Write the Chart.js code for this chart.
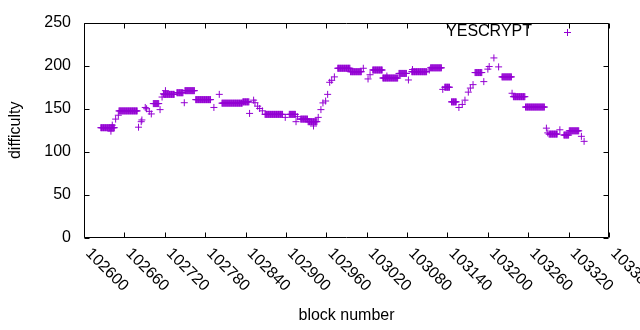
<!DOCTYPE html>
<html><head><meta charset="utf-8">
<script src="https://cdn.jsdelivr.net/npm/chart.js@4/dist/chart.umd.min.js"></script>
<style>html,body{margin:0;padding:0;background:#fff}canvas{display:block}</style>
</head><body>
<canvas id="c" width="640" height="330"></canvas>
<script>
const seriesName = 'YESCRYPT';
const xTitle = 'block number';
const yTitle = 'difficulty';
const xTickValues = [102600,102660,102720,102780,102840,102900,102960,103020,103080,103140,103200,103260,103320,103380];
const yTickValues = [0,50,100,150,200,250];

const blockNumbers = [
102625,102626,102627,102628,102629,102630,102631,102632,102633,102634,102635,102636,102637,102638,102639,102640,102641,102642,102643,102644,102645,
102640,102642,102647,102651,
102652,102653,102654,102655,102656,102657,102658,102659,102660,102661,102662,102663,102664,102665,102666,102667,102668,102669,102670,102671,102672,102673,102674,102675,102676,102677,102678,102679,
102681,102685,102686,102691,102693,102697,102700,
102703,102704,102705,102706,102707,102708,102709,102710,102711,
102713,102716,102718,
102719,102720,102721,102722,102723,102724,102725,102726,102727,102728,102729,102730,102731,102732,102733,102734,
102721,
102738,102739,102740,102741,102742,102743,102744,102745,102746,102747,
102749,
102750,102751,102752,102753,102754,102755,102756,102757,102758,102759,102760,102761,102762,102763,102764,
102766,102767,102768,102769,102770,102771,102772,102773,102774,102775,102776,102777,102778,102779,102780,102781,102782,102783,102784,102785,102786,102787,102788,
102793,102801,
102805,102806,102807,102808,102809,102810,102811,102812,102813,102814,102815,102816,102817,102818,102819,102820,102821,102822,102823,102824,102825,102826,102827,102828,102829,102830,102831,102832,102833,102834,102835,
102836,102837,102838,102839,102840,102841,102842,102843,102844,102845,
102846,102852,102854,102858,102861,102865,
102869,102870,102871,102872,102873,102874,102875,102876,102877,102878,102879,102880,102881,102882,102883,102884,102885,102886,102887,102888,102889,102890,102891,102892,102893,102894,102895,
102899,
102905,102906,102907,102908,102909,102910,102911,102912,102913,102914,
102915,102917,
102922,102923,102924,102925,102926,102927,102928,102929,102930,102931,102932,
102933,102934,102935,102936,102937,102938,102939,102940,102941,102942,102943,102944,102945,102946,
102941,102948,102952,102955,102959,102962,102965,102968,102972,
102977,102978,102979,102980,102981,102982,102983,102984,102985,102986,102987,102988,102989,102990,102991,102992,102993,102994,102995,
102996,102997,102998,102999,103000,103001,103002,103003,103004,103005,103006,103007,103008,103009,103010,103011,103012,
103015,103022,103025,
103029,103030,103031,103032,103033,103034,103035,103036,103037,103038,103039,103040,103041,103042,103043,
103044,103045,103046,103047,103048,103049,103050,103051,103052,103053,103054,103055,103056,103057,103058,103059,103060,103061,103062,103063,103064,103065,103066,
103050,
103068,103069,103070,103071,103072,103073,103074,103075,103076,103077,103078,103079,
103082,
103087,103088,103089,103090,103091,103092,103093,103094,103095,103096,103097,103098,103099,103100,103101,103102,103103,103104,103105,103106,103107,103108,103109,
103088,103113,
103115,103116,103117,103118,103119,103120,103121,103122,103123,103124,103125,103126,103127,103128,103129,103130,103131,
103133,
103136,103137,103138,103139,103140,103141,103142,103143,
103146,103147,103148,103149,103150,103151,103152,103153,
103157,103162,103166,103171,103174,103178,
103181,103182,103183,103184,103185,103186,103187,103188,103189,103190,103191,
103194,103200,103202,103209,103216,
103221,103222,103223,103224,103225,103226,103227,103228,103229,103230,103231,103232,103233,103234,103235,
103236,
103238,103239,103240,103241,103242,103243,103244,103245,103246,103247,103248,103249,103250,103251,103252,103253,103254,103255,
103256,103257,103258,103259,103260,103261,103262,103263,103264,103265,103266,103267,103268,103269,103270,103271,103272,103273,103274,103275,103276,103277,103278,103279,103280,103281,103282,103283,103284,
103287,103289,
103291,103292,103293,103294,103295,103296,103297,103298,103299,103300,103301,103302,103303,
103307,
103313,103314,103315,103316,103317,103318,103319,103320,
103321,103322,103323,103324,103325,103326,103327,103328,103329,103330,103331,103332,103333,103334,103335,
103339,103343
];

const difficulty = [
128,128,128,128,128,128,128,128,128,128,128,128,128,128,128,128,128,128,128,128,128,
124,131,138,142.5,
147.5,147.5,147.5,147.5,147.5,147.5,147.5,147.5,147.5,147.5,147.5,147.5,147.5,147.5,147.5,147.5,147.5,147.5,147.5,147.5,147.5,147.5,147.5,147.5,147.5,147.5,147.5,147.5,
128.6,135,137,151.5,150,147,144,
156,156,156,156,156,156,156,156,156,
149,163.6,167.4,
166.7,166.7,166.7,166.7,166.7,166.7,166.7,166.7,166.7,166.7,166.7,166.7,166.7,166.7,166.7,166.7,
171,
168.6,168.6,168.6,168.6,168.6,168.6,168.6,168.6,168.6,168.6,
157,
171,171,171,171,171,171,171,171,171,171,171,171,171,171,171,
160.6,160.6,160.6,160.6,160.6,160.6,160.6,160.6,160.6,160.6,160.6,160.6,160.6,160.6,160.6,160.6,160.6,160.6,160.6,160.6,160.6,160.6,160.6,
151.5,166.7,
156.5,156.5,156.5,156.5,156.5,156.5,156.5,156.5,156.5,156.5,156.5,156.5,156.5,156.5,156.5,156.5,156.5,156.5,156.5,156.5,156.5,156.5,156.5,156.5,156.5,156.5,156.5,156.5,156.5,156.5,156.5,
158,158,158,158,158,158,158,158,158,158,
144.6,160,157,153,150.3,147.6,
143.5,143.5,143.5,143.5,143.5,143.5,143.5,143.5,143.5,143.5,143.5,143.5,143.5,143.5,143.5,143.5,143.5,143.5,143.5,143.5,143.5,143.5,143.5,143.5,143.5,143.5,143.5,
140,
143.5,143.5,143.5,143.5,143.5,143.5,143.5,143.5,143.5,143.5,
135,140.8,
138,138,138,138,138,138,138,138,138,138,138,
135,135,135,135,135,135,135,135,135,135,135,135,135,135,
130,140,149,156.8,159,166.7,180.7,183,187,
197,197,197,197,197,197,197,197,197,197,197,197,197,197,197,197,197,197,197,
193,193,193,193,193,193,193,193,193,193,193,193,193,193,193,193,193,
197,184.6,189.5,
195,195,195,195,195,195,195,195,195,195,195,195,195,195,195,
185.7,185.7,185.7,185.7,185.7,185.7,185.7,185.7,185.7,185.7,185.7,185.7,185.7,185.7,185.7,185.7,185.7,185.7,185.7,185.7,185.7,185.7,185.7,
188,
191,191,191,191,191,191,191,191,191,191,191,191,
183.4,
193,193,193,193,193,193,193,193,193,193,193,193,193,193,193,193,193,193,193,193,193,193,193,
195.5,195,
197.5,197.5,197.5,197.5,197.5,197.5,197.5,197.5,197.5,197.5,197.5,197.5,197.5,197.5,197.5,197.5,197.5,
172.5,
175,175,175,175,175,175,175,175,
158,158,158,158,158,158,158,158,
151.5,155,160,169.3,174,178,
192,192,192,192,192,192,192,192,192,192,192,
181.5,196,199,209,198.6,
187,187,187,187,187,187,187,187,187,187,187,187,187,187,187,
168,
164,164,164,164,164,164,164,164,164,164,164,164,164,164,164,164,164,164,
152,152,152,152,152,152,152,152,152,152,152,152,152,152,152,152,152,152,152,152,152,152,152,152,152,152,152,152,152,
127.5,122,
120.6,120.6,120.6,120.6,120.6,120.6,120.6,120.6,120.6,120.6,120.6,120.6,120.6,
125.6,
119.5,119.5,119.5,119.5,119.5,119.5,119.5,119.5,
124.4,124.4,124.4,124.4,124.4,124.4,124.4,124.4,124.4,124.4,124.4,124.4,124.4,124.4,124.4,
118,112.2
];

const FONT_FAMILY = '"Liberation Sans", Arial, sans-serif';
const PURPLE = '#9400d3';
const points = blockNumbers.map((b, i) => ({x: b, y: difficulty[i]}));

const framePlugin = {
  id: 'gnuframe',
  afterDatasetsDraw(chart) {
    const {ctx, chartArea: a, scales: {x, y}} = chart;
    ctx.save();
    ctx.strokeStyle = '#000';
    ctx.lineWidth = 1;
    const L = Math.round(a.left) + 0.5, R = Math.round(a.right) - 0.5;
    const T = Math.round(a.top) + 0.5, B = Math.round(a.bottom) - 0.5;
    ctx.beginPath();
    ctx.rect(L, T, R - L, B - T);
    const tk = 5;
    yTickValues.forEach(v => {
      const py = Math.round(y.getPixelForValue(v)) + 0.5;
      ctx.moveTo(L, py); ctx.lineTo(L + tk, py);
      ctx.moveTo(R, py); ctx.lineTo(R - tk, py);
    });
    xTickValues.forEach(v => {
      const px = Math.round(x.getPixelForValue(v)) + 0.5;
      ctx.moveTo(px, B); ctx.lineTo(px, B - tk);
      ctx.moveTo(px, T); ctx.lineTo(px, T + tk);
    });
    ctx.stroke();
    // rotated x tick labels
    ctx.fillStyle = '#000';
    ctx.font = '16px ' + FONT_FAMILY;
    ctx.textAlign = 'left';
    ctx.textBaseline = 'middle';
    xTickValues.forEach(v => {
      const px = x.getPixelForValue(v);
      ctx.save();
      ctx.translate(px + 4, a.bottom + 13);
      ctx.rotate(Math.PI / 4);
      ctx.fillText(String(v), 0, 0);
      ctx.restore();
    });
    // legend
    ctx.textAlign = 'right';
    ctx.fillText(seriesName, 532, 32);
    ctx.strokeStyle = PURPLE;
    ctx.beginPath();
    ctx.moveTo(564, 32.5); ctx.lineTo(571, 32.5);
    ctx.moveTo(567.5, 29); ctx.lineTo(567.5, 36);
    ctx.stroke();
    ctx.restore();
  }
};

new Chart(document.getElementById('c'), {
  type: 'scatter',
  data: {
    datasets: [{
      label: seriesName,
      data: points,
      showLine: false,
      pointStyle: 'cross',
      pointRadius: 3.5,
      pointBorderWidth: 1,
      pointBorderColor: PURPLE,
      pointBackgroundColor: PURPLE,
      borderColor: PURPLE
    }]
  },
  options: {
    responsive: false,
    animation: false,
    devicePixelRatio: 1,
    events: [],
    layout: {padding: {left: 0, right: 31, top: 20, bottom: 0}},
    plugins: {legend: {display: false}, tooltip: {enabled: false}},
    scales: {
      x: {
        type: 'linear',
        min: 102600, max: 103380,
        afterFit(s) { s.height = 92; },
        grid: {display: false, drawTicks: false},
        border: {display: false},
        ticks: {display: false, stepSize: 60},
        title: {display: true, text: xTitle, color: '#000',
          font: {family: FONT_FAMILY, size: 16}, padding: {top: 0, bottom: 5}}
      },
      y: {
        min: 0, max: 250,
        afterFit(s) { s.width = 84; },
        afterBuildTicks(s) { s.ticks = yTickValues.map(v => ({value: v})); },
        grid: {display: false, drawTicks: false},
        border: {display: false},
        ticks: {color: '#000', padding: 13, font: {family: FONT_FAMILY, size: 16}},
        title: {display: true, text: yTitle, color: '#000',
          font: {family: FONT_FAMILY, size: 16}, padding: {top: 6, bottom: 0}}
      }
    }
  },
  plugins: [framePlugin]
});
</script>
</body></html>
